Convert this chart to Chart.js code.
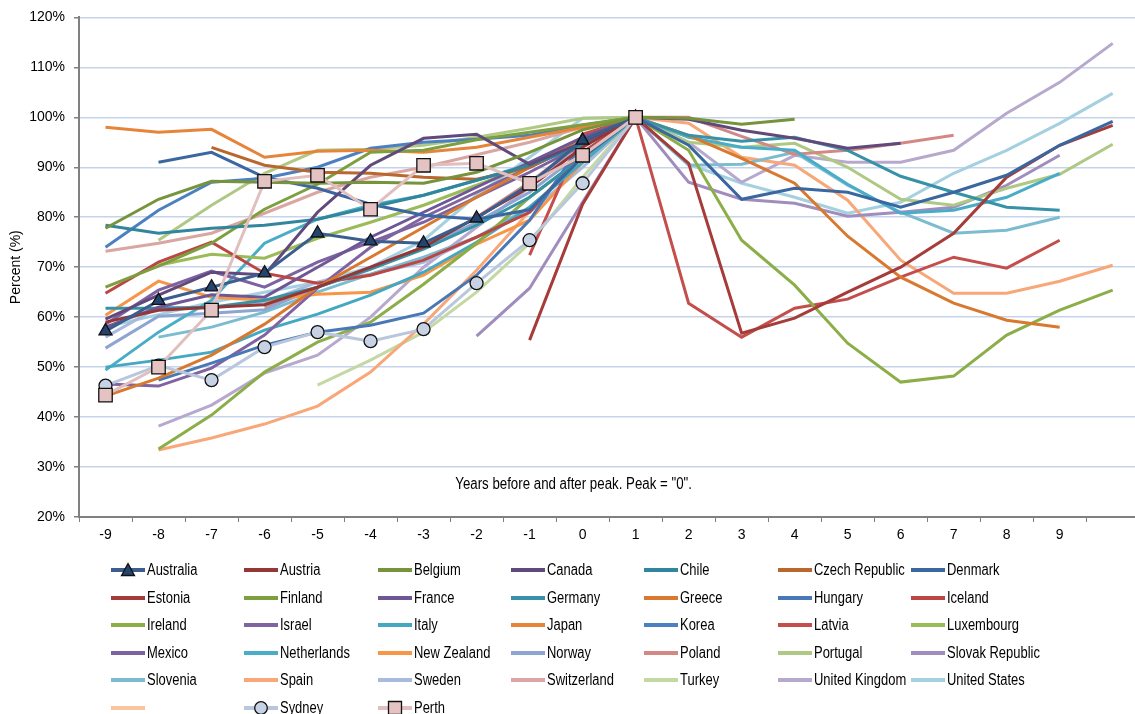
<!DOCTYPE html>
<html>
<head>
<meta charset="utf-8">
<script src="https://cdn.jsdelivr.net/npm/chart.js@4.4.1/dist/chart.umd.min.js"></script>
<style>
  body { margin: 0; background: #fff; overflow: hidden; }
  #wrap { position: relative; width: 1135px; height: 714px; overflow: hidden; }
  #mycanvas { position: absolute; left: 0; top: 0; }
  #legend { position: absolute; left: 0; top: 0; width: 1135px; height: 714px; }
  .item { position: absolute; height: 20px; white-space: nowrap;
          font: 16px 'Liberation Sans', Arial, sans-serif; color: #000; }
  .item canvas { position: absolute; left: 0; top: 2px; }
  .item span { position: absolute; left: 37px; top: 0; line-height: 20px;
               transform: scaleX(0.81); transform-origin: 0 50%; }
</style>
</head>
<body>
<div id="wrap">
  <canvas id="mycanvas" width="1150" height="548"></canvas>
  <div id="legend"></div>
</div>
<script>
var FONT = "'Liberation Sans', Arial, sans-serif";

// x categories (years before / after peak)
var years = ['-9', '-8', '-7', '-6', '-5', '-4', '-3', '-2', '-1', '0', '1', '2', '3', '4', '5', '6', '7', '8', '9', ''];
var yTicks = [20, 30, 40, 50, 60, 70, 80, 90, 100, 110, 120];

var N = null;
var australia = [57.2, 63.3, 66, 68.8, 76.8, 75.2, 74.8, 79.8, 86.6, 95.4, 100, N, N, N, N, N, N, N, N, N];
var austria = [59, 61.4, 62, 62.5, 66, 70, 74, 80, 86, 94, 100, N, N, N, N, N, N, N, N, N];
var belgium = [77.8, 83.6, 87.2, 87, 86.8, 87, 86.8, 89, 93, 97.5, 100, 99.8, 98.6, 99.6, N, N, N, N, N, N];
var canada = [59.6, 64.4, 69, 68.5, 81, 90.4, 95.8, 96.6, 90.6, 95, 100, 99.6, 97.4, 95.8, 93.8, 94.8, N, N, N, N];
var chile = [78.4, 76.8, 77.8, 78.4, 79.6, 82, 84.4, 87.4, 90.4, 94.4, 100, N, N, N, N, N, N, N, N, N];
var czech = [N, N, 94, 90.4, 89, 88.8, 88, 87.6, 90, 95, 100, N, N, N, N, N, N, N, N, N];
var denmark = [N, 91, 93, 88, 85.8, 82.6, 80.4, 79.6, 81.5, 92, 100, 94.4, 83.6, 85.8, 85, 82, 85, 88.4, 94.4, 99.2];
var estonia = [N, N, N, N, N, N, N, N, 55.4, 82.6, 100, 90.8, 56.8, 59.8, 65, 70, 76.8, 88, 94.4, 98.4];
var finland = [66, 70.2, 74.8, 81.6, 86.6, 93, 93.4, 95.5, 97, 98.5, 100, N, N, N, N, N, N, N, N, N];
var france = [58, 62, 64.5, 64, 70, 76, 81, 86, 91, 96, 100, N, N, N, N, N, N, N, N, N];
var germany = [61.8, 61.8, 62, 63.4, 66, 69.6, 73.6, 78.4, 84, 92, 100, 96.4, 95.2, 96, 93.4, 88.2, 85, 82, 81.4, N];
var greece = [44.2, 47.8, 52.4, 58.6, 66, 72, 78, 84, 90, 96, 100, 96.4, 91.8, 86.8, 76.2, 68, 62.8, 59.4, 58, N];
var hungary = [N, 47.4, 50.8, 54.4, 57, 58.4, 60.8, 68.4, 79.4, 95, 100, N, N, N, N, N, N, N, N, N];
var iceland = [64.8, 71, 75, 68.8, 66.8, 68.4, 71.4, 76, 81, 93, 100, N, N, N, N, N, N, N, N, N];
var ireland = [N, 33.6, 40.4, 49, 55, 59, 66.6, 74.8, 84, 92, 100, 93.4, 75.4, 66.4, 54.8, 47, 48.2, 56.4, 61.4, 65.4];
var israel = [46.6, 46.2, 49.8, 56.4, 65.8, 74, 80, 85, 90, 95, 100, N, N, N, N, N, N, N, N, N];
var italy = [50, 51.4, 53, 57.4, 60.6, 64.4, 69, 75, 82, 91, 100, N, N, N, N, N, N, N, N, N];
var japan = [98, 97, 97.6, 92, 93.2, 93.4, 93, 94, 96, 98, 100, N, N, N, N, N, N, N, N, N];
var korea = [74, 81.4, 87, 87.8, 90, 93.8, 95, 95.6, 96.4, 98.4, 100, N, N, N, N, N, N, N, N, N];
var latvia = [N, N, N, N, N, N, N, N, 72.4, 96.6, 100, 62.8, 56, 61.8, 63.6, 68, 72, 69.8, 75.4, N];
var luxembourg = [N, 70.4, 72.6, 71.8, 75.8, 79, 82.4, 86.4, 90.4, 95.4, 100, N, N, N, N, N, N, N, N, N];
var mexico = [58.6, 65.4, 69.2, 66, 71, 75, 79, 84, 89, 94.5, 100, N, N, N, N, N, N, N, N, N];
var netherlands = [49.4, 57, 63.4, 74.8, 79.6, 82.4, 84.4, 87.4, 90.6, 95, 100, 96, 94, 93.4, 86.6, 80.8, 81.4, 84, 88.8, N];
var newZealand = [60.4, 67.2, 64, 63.4, 64.6, 65, 68.4, 74.6, 79.4, 91, 100, N, N, N, N, N, N, N, N, N];
var norway = [53.8, 60.2, 60.8, 61.5, 66, 70, 74, 79, 85, 93, 100, N, N, N, N, N, N, N, N, N];
var poland = [N, N, N, 62, 66, 69.6, 74, 80, 87, 95, 100, 100, 96.2, 92.6, 93.4, 94.8, 96.4, N, N, N];
var portugal = [N, 75.4, 82.4, 88.8, 93.4, 93.6, 94.4, 96, 97.8, 99.8, 100, 95, 94, 94.8, 90, 83.6, 82.4, 85.8, 88.6, 94.6];
var slovakia = [N, N, N, N, N, N, N, 56.2, 65.8, 83, 100, 87, 83.6, 82.8, 80.2, 81, 82, 86.4, 92.4, N];
var slovenia = [N, 56, 58, 61, 65, 68.6, 72, 76, 82, 91, 100, 90.4, 90.6, 93, 86.4, 81, 76.8, 77.4, 80, N];
var spain = [N, 33.4, 35.8, 38.6, 42.2, 49, 58.6, 69.4, 81.2, 92, 100, 98.8, 92, 90.4, 83.4, 71.4, 64.8, 64.8, 67.2, 70.4];
var sweden = [56, 62, 61.8, 63, 67, 68.6, 71, 76, 81, 90, 100, N, N, N, N, N, N, N, N, N];
var switzerland = [73.2, 74.8, 76.8, 80.8, 85, 88, 90, 92.5, 95, 98, 100, N, N, N, N, N, N, N, N, N];
var turkey = [N, N, N, N, 46.4, 51.4, 57, 65, 74.8, 88, 100, N, N, N, N, N, N, N, N, N];
var unitedKingdom = [N, 38.2, 42.4, 48.8, 52.4, 60, 70, 78, 86, 95, 100, 95, 87, 92.4, 91, 91, 93.4, 100.8, 107, 114.8];
var unitedStates = [58, 60.5, 63, 65, 67, 70, 75.4, 84.4, 92, 99.8, 100, 90.6, 86.8, 84, 80.8, 83, 88.8, 93.4, 98.8, 104.8];
var unnamed = [N, N, N, N, N, N, N, N, N, N, N, N, N, N, N, N, N, N, N, N];
var sydney = [46.3, 50.3, 47.4, 54, 57, 55.2, 57.6, 66.8, 75.4, 86.8, 100, N, N, N, N, N, N, N, N, N];
var perth = [44.4, 50, 61.4, 87.2, 88.4, 81.6, 90.4, 90.8, 86.8, 92.4, 100, N, N, N, N, N, N, N, N, N];

var series = [
  ['Australia', australia, '#3A5F8F'], ['Austria', austria, '#953735'], ['Belgium', belgium, '#77933C'],
  ['Canada', canada, '#604A7B'], ['Chile', chile, '#31859C'], ['Czech Republic', czech, '#B9672D'],
  ['Denmark', denmark, '#3A67A0'], ['Estonia', estonia, '#A63C39'], ['Finland', finland, '#7E9F3F'],
  ['France', france, '#6F5796'], ['Germany', germany, '#3792A8'], ['Greece', greece, '#D9792F'],
  ['Hungary', hungary, '#4878B5'], ['Iceland', iceland, '#BC4644'], ['Ireland', ireland, '#8CAE48'],
  ['Israel', israel, '#8064A2'], ['Italy', italy, '#45A8C2'], ['Japan', japan, '#E6853A'],
  ['Korea', korea, '#4C80C0'], ['Latvia', latvia, '#C44E4B'], ['Luxembourg', luxembourg, '#9BBB59'],
  ['Mexico', mexico, '#7D62A0'], ['Netherlands', netherlands, '#4AADC8'], ['New Zealand', newZealand, '#F79646'],
  ['Norway', norway, '#8CA5D1'], ['Poland', poland, '#D48886'], ['Portugal', portugal, '#AFC984'],
  ['Slovak Republic', slovakia, '#A08DBE'], ['Slovenia', slovenia, '#7CBCD0'], ['Spain', spain, '#F7A778'],
  ['Sweden', sweden, '#A8BBDC'], ['Switzerland', switzerland, '#DAA6A4'], ['Turkey', turkey, '#C4D8A3'],
  ['United Kingdom', unitedKingdom, '#B7A9CD'], ['United States', unitedStates, '#A4D0DF'],
  ['', unnamed, '#FAC3A2'], ['Sydney', sydney, '#B9C7DD'], ['Perth', perth, '#E2BFBF']
];

var markers = {
  'Australia': { style: 'triangle', radius: 7.5, fill: '#24436D', order: 2 },
  'Sydney': { style: 'circle', radius: 6.5, fill: '#C7D3E5', order: 1 },
  'Perth': { style: 'rect', radius: 9.5, fill: '#E6C3C3', order: 0 }
};

var datasets = series.map(function (s) {
  var m = markers[s[0]];
  return {
    label: s[0],
    data: s[1],
    borderColor: s[2],
    backgroundColor: s[2],
    borderWidth: 3,
    tension: 0,
    fill: false,
    order: m ? m.order : 3,
    pointStyle: m ? m.style : 'circle',
    pointRadius: m ? m.radius : 0,
    pointHoverRadius: m ? m.radius : 0,
    pointBackgroundColor: m ? m.fill : s[2],
    pointBorderColor: '#111',
    pointBorderWidth: 1.3
  };
});

// note written inside the plot, narrow like the original
var notePlugin = {
  id: 'note',
  afterDraw: function (chart) {
    var ctx = chart.ctx;
    var xs = chart.scales.x, ys = chart.scales.y;
    ctx.save();
    ctx.font = '16px ' + FONT;
    ctx.fillStyle = '#000';
    ctx.textAlign = 'center';
    ctx.textBaseline = 'middle';
    ctx.translate(xs.getPixelForValue(9) - 9, ys.getPixelForValue(26.4));
    ctx.scale(0.83, 1);
    ctx.fillText('Years before and after peak. Peak = "0".', 0, 0);
    ctx.restore();
  }
};

var ctx = document.getElementById('mycanvas');
var myChart = new Chart(ctx, {
  type: 'line',
  data: { labels: years, datasets: datasets },
  options: {
    responsive: false,
    animation: false,
    devicePixelRatio: 1,
    layout: { padding: { top: 17, right: 5, left: 0, bottom: 0 } },
    plugins: { legend: { display: false }, tooltip: { enabled: false }, title: { display: false } },
    scales: {
      x: {
        offset: true,
        afterFit: function (scale) { scale.height = 31; },
        grid: { offset: true, drawOnChartArea: false, drawTicks: true, tickLength: 5, color: '#808080', lineWidth: 1 },
        border: { color: '#808080', width: 2 },
        ticks: { color: '#000', font: { family: FONT, size: 14 }, maxRotation: 0, autoSkip: false, padding: 5 }
      },
      y: {
        min: 20, max: 120,
        afterFit: function (scale) { scale.width = 79; },
        afterBuildTicks: function (scale) { scale.ticks = yTicks.map(function (v) { return { value: v }; }); },
        grid: {
          color: function (c) { return c.tick && c.tick.value === 20 ? 'rgba(0,0,0,0)' : '#C6D4EB'; },
          tickColor: '#808080', lineWidth: 1.5, tickLength: 5
        },
        border: { color: '#808080', width: 2 },
        title: { display: true, text: 'Percent (%)', color: '#000', font: { family: FONT, size: 14 }, padding: { top: 8, bottom: 4 } },
        ticks: {
          color: '#000', font: { family: FONT, size: 14 }, padding: 9,
          callback: function (v) { return v + '%'; }
        }
      }
    }
  },
  plugins: [notePlugin]
});

// legend, laid out as in the original (7 columns)
function buildLegend(chart) {
  var box = document.getElementById('legend');
  chart.data.datasets.forEach(function (ds, i) {
    var col = i % 7, row = Math.floor(i / 7);
    var left = 147 + col * 133.3 - 37;
    var top = 560 + row * 27.6;
    var item = document.createElement('div');
    item.className = 'item';
    item.style.left = left + 'px';
    item.style.top = top + 'px';
    var c = document.createElement('canvas');
    c.width = 36; c.height = 16;
    var g = c.getContext('2d');
    g.strokeStyle = ds.borderColor;
    g.lineWidth = 4;
    g.beginPath(); g.moveTo(1, 8); g.lineTo(35, 8); g.stroke();
    var m = markers[ds.label];
    if (m) {
      g.fillStyle = m.fill;
      g.strokeStyle = '#111';
      g.lineWidth = 1.3;
      g.beginPath();
      if (m.style === 'triangle') {
        g.moveTo(18, 1.5); g.lineTo(24.5, 13.5); g.lineTo(11.5, 13.5); g.closePath();
      } else if (m.style === 'circle') {
        g.arc(18, 8, 6.3, 0, Math.PI * 2);
      } else {
        g.rect(11.5, 1.5, 13, 13);
      }
      g.fill(); g.stroke();
    }
    item.appendChild(c);
    var t = document.createElement('span');
    t.textContent = ds.label;
    item.appendChild(t);
    box.appendChild(item);
  });
}
buildLegend(myChart);
</script>
</body>
</html>
